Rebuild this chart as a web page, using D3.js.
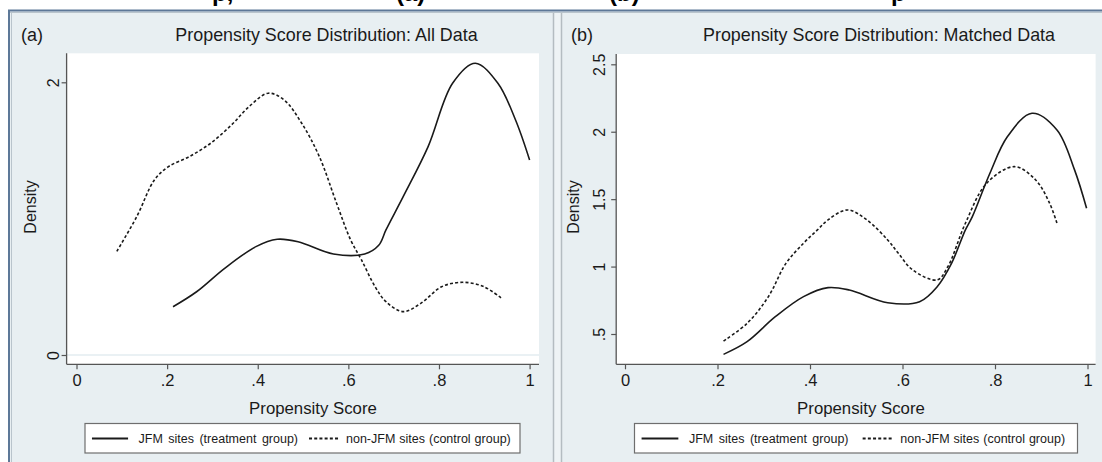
<!DOCTYPE html>
<html><head><meta charset="utf-8">
<script src="https://cdn.jsdelivr.net/npm/d3@7"></script>
<style>
html,body{margin:0;padding:0;background:#fff;}
svg{display:block;font-family:"Liberation Sans",Arial,sans-serif;}
</style></head>
<body>
<svg id="c" width="1102" height="462"></svg>
<script>
// ---------- DATA ----------
const xTicks = [0, 0.2, 0.4, 0.6, 0.8, 1];
const xTickLabels = ["0", ".2", ".4", ".6", ".8", "1"];
const yTicksA = [0, 2];
const yTickLabelsA = ["0", "2"];
const yTicksB = [0.5, 1, 1.5, 2, 2.5];
const yTickLabelsB = [".5", "1", "1.5", "2", "2.5"];
const seriesNames = ["JFM sites (treatment group)", "non-JFM sites (control group)"];
const panelTitles = ["Propensity Score Distribution: All Data", "Propensity Score Distribution: Matched Data"];
const panelTags = ["(a)", "(b)"];
const xTitle = "Propensity Score";
const yTitle = "Density";
const headingFragments = ["p,", "(a)", "(b)", "p"];

// Panel (a): all data
const aJfmScore = [0.213,0.265,0.327,0.396,0.443,0.489,0.567,0.636,0.667,0.683,0.721,0.776,0.830,0.880,0.930,0.969,1.0];
const aJfmDens  = [0.354,0.464,0.636,0.795,0.849,0.831,0.741,0.741,0.805,0.917,1.161,1.528,1.993,2.14,1.993,1.724,1.431];
const aNonScore = [0.089,0.133,0.172,0.203,0.249,0.296,0.342,0.381,0.423,0.458,0.497,0.536,0.574,0.605,0.629,0.659,0.683,0.721,0.760,0.806,0.853,0.899,0.938];
const aNonDens  = [0.760,1.015,1.284,1.382,1.455,1.553,1.687,1.822,1.920,1.871,1.700,1.455,1.113,0.844,0.697,0.501,0.391,0.318,0.379,0.501,0.533,0.501,0.416];

// Panel (b): matched data
const bJfmScore = [0.213,0.264,0.325,0.386,0.439,0.485,0.568,0.637,0.675,0.706,0.736,0.751,0.789,0.827,0.880,0.934,0.972,0.998];
const bJfmDens  = [0.349,0.443,0.628,0.777,0.844,0.826,0.732,0.740,0.851,1.024,1.272,1.370,1.692,1.964,2.137,2.013,1.717,1.432];
const bNonScore = [0.213,0.264,0.310,0.348,0.386,0.416,0.439,0.481,0.523,0.568,0.591,0.622,0.675,0.698,0.736,0.782,0.842,0.888,0.918,0.934];
const bNonDens  = [0.448,0.579,0.777,1.024,1.173,1.272,1.346,1.420,1.346,1.197,1.099,0.975,0.901,0.999,1.321,1.618,1.741,1.642,1.470,1.321];

// ---------- DRAW ----------
const svg = d3.select("#c");
const BG = "#e8eff2";
const INK = "#1a1a1a";

// page frame
svg.append("rect").attr("x",0).attr("y",0).attr("width",1102).attr("height",462).attr("fill","#fff");
svg.append("rect").attr("x",9).attr("y",11).attr("width",1093).attr("height",451).attr("fill",BG);
svg.append("line").attr("x1",8).attr("x2",1102).attr("y1",10.5).attr("y2",10.5).attr("stroke","#5d7898").attr("stroke-width",2);
svg.append("line").attr("x1",8).attr("x2",1102).attr("y1",12.5).attr("y2",12.5).attr("stroke","#b9c4cc").attr("stroke-width",1);
svg.append("line").attr("x1",9).attr("x2",9).attr("y1",10).attr("y2",462).attr("stroke","#5d7898").attr("stroke-width",2);
svg.append("line").attr("x1",11.5).attr("x2",11.5).attr("y1",12).attr("y2",462).attr("stroke","#b9c4cc").attr("stroke-width",1);
// panel separators
svg.append("rect").attr("x",554).attr("y",13).attr("width",7).attr("height",449).attr("fill","#eef3f5");
svg.append("line").attr("x1",553.5).attr("x2",553.5).attr("y1",13).attr("y2",462).attr("stroke","#b4bcc1").attr("stroke-width",1.5);
svg.append("line").attr("x1",561.5).attr("x2",561.5).attr("y1",13).attr("y2",462).attr("stroke","#b4bcc1").attr("stroke-width",1.5);

// cropped heading fragments (bottom of the source page's heading line, cut off as in the reference)
const head = svg.append("g").attr("font-weight","bold").attr("font-size",24).attr("fill","#000");
const headX = [212, 396, 609, 891];
headingFragments.forEach((t,i)=>{
  head.append("text").attr("x",headX[i]).attr("y",1).text(t);
});

const panels = [
  { tag: panelTags[0], title: panelTitles[0], titleX: 326.5, tagX: 21,
    plot: {l:66.6, r:539, t:53.3, b:364.3},
    x: d3.scaleLinear().domain([0,1]).range([76.5,529.6]),
    y: d3.scaleLinear().domain([0,2]).range([355,82.3]),
    yTicks: yTicksA, yLabels: yTickLabelsA, grid0: true,
    yLabX: 52.6, yTitleX: 30, xTitleX: 313,
    legend: {l:85, r:520},
    series: [ {x:aJfmScore, y:aJfmDens, dash:null}, {x:aNonScore, y:aNonDens, dash:"3,2.2"} ] },
  { tag: panelTags[1], title: panelTitles[1], titleX: 879, tagX: 571,
    plot: {l:616.2, r:1095.6, t:54, b:364.3},
    x: d3.scaleLinear().domain([0,1]).range([625,1087.5]),
    y: d3.scaleLinear().domain([0.5,2.5]).range([334,64.3]),
    yTicks: yTicksB, yLabels: yTickLabelsB, grid0: false,
    yLabX: 599, yTitleX: 573, xTitleX: 861,
    legend: {l:634.5, r:1077.5},
    series: [ {x:bJfmScore, y:bJfmDens, dash:null}, {x:bNonScore, y:bNonDens, dash:"3,2.2"} ] }
];

panels.forEach(p => {
  const g = svg.append("g");
  // tag and title
  g.append("text").attr("x",p.tagX).attr("y",41).attr("font-size",18).attr("fill",INK).text(p.tag);
  g.append("text").attr("x",p.titleX).attr("y",41).attr("text-anchor","middle").attr("font-size",17.9).attr("fill",INK).text(p.title);
  // plot region
  g.append("rect").attr("x",p.plot.l).attr("y",p.plot.t).attr("width",p.plot.r-p.plot.l).attr("height",p.plot.b-p.plot.t).attr("fill","#fff");
  if (p.grid0) {
    g.append("line").attr("x1",p.plot.l).attr("x2",p.plot.r).attr("y1",p.y(0)).attr("y2",p.y(0)).attr("stroke","#e3ecf0").attr("stroke-width",1.5);
  }
  // axes
  const xAxis = d3.axisBottom(p.x).tickValues(xTicks).tickFormat((d,i)=>xTickLabels[i]).tickSize(5).tickSizeOuter(0).tickPadding(5);
  const xg = g.append("g").attr("transform",`translate(0,${p.plot.b})`).call(xAxis);
  xg.select(".domain").attr("d",`M${p.plot.l},0H${p.plot.r}`).attr("stroke","#555").attr("stroke-width",1.3);
  xg.selectAll(".tick line").attr("stroke","#555").attr("stroke-width",1.2);
  xg.selectAll(".tick text").attr("font-size",16.5).attr("fill",INK).attr("font-family","Liberation Sans, Arial, sans-serif");

  const yAxis = d3.axisLeft(p.y).tickValues(p.yTicks).tickFormat((d,i)=>p.yLabels[i]).tickSize(5).tickSizeOuter(0);
  const yg = g.append("g").attr("transform",`translate(${p.plot.l},0)`).call(yAxis);
  yg.select(".domain").attr("d",`M0,${p.plot.t}V${p.plot.b}`).attr("stroke","#555").attr("stroke-width",1.3);
  yg.selectAll(".tick line").attr("stroke","#555").attr("stroke-width",1.2);
  yg.selectAll(".tick text")
    .attr("x",null).attr("dy",null)
    .attr("text-anchor","middle").attr("font-size",16).attr("fill",INK)
    .attr("font-family","Liberation Sans, Arial, sans-serif")
    .attr("transform",`translate(${p.yLabX - p.plot.l + 6},0) rotate(-90)`);

  // axis titles
  g.append("text").attr("x",p.xTitleX).attr("y",414).attr("text-anchor","middle").attr("font-size",16.8).attr("fill",INK).text(xTitle);
  g.append("text").attr("transform",`translate(${p.yTitleX + 6},207) rotate(-90)`).attr("text-anchor","middle").attr("font-size",16).attr("fill",INK).text(yTitle);

  // curves
  const line = d3.line().x(d=>p.x(d[0])).y(d=>p.y(d[1])).curve(d3.curveCatmullRom.alpha(0.5));
  const clipId = "clip"+p.tag.replace(/\W/g,"");
  g.append("clipPath").attr("id",clipId).append("rect").attr("x",p.plot.l).attr("y",p.plot.t).attr("width",p.plot.r-p.plot.l).attr("height",p.plot.b-p.plot.t);
  p.series.forEach(s => {
    const pts = s.x.map((v,i)=>[v, s.y[i]]);
    g.append("path").datum(pts).attr("d",line).attr("fill","none").attr("stroke",INK)
      .attr("stroke-width",1.6).attr("stroke-dasharray",s.dash).attr("clip-path",`url(#${clipId})`);
  });

  // legend
  const L = p.legend;
  const lg = g.append("g");
  lg.append("rect").attr("x",L.l).attr("y",423.5).attr("width",L.r-L.l).attr("height",29.5).attr("fill","#fff").attr("stroke","#6e6e6e").attr("stroke-width",1.2);
  const w = L.r - L.l;
  lg.append("line").attr("x1",L.l+0.016*w).attr("x2",L.l+0.099*w).attr("y1",438.5).attr("y2",438.5).attr("stroke",INK).attr("stroke-width",1.8);
  lg.append("text").attr("x",L.l+0.123*w).attr("y",443).attr("font-size",12.5).attr("fill",INK).attr("word-spacing",2).text(seriesNames[0]);
  lg.append("line").attr("x1",L.l+0.515*w).attr("x2",L.l+0.585*w).attr("y1",438.5).attr("y2",438.5).attr("stroke",INK).attr("stroke-width",1.8).attr("stroke-dasharray","3,2.2");
  lg.append("text").attr("x",L.l+0.600*w).attr("y",443).attr("font-size",12.5).attr("fill",INK).attr("word-spacing",0.5).text(seriesNames[1]);
});
</script>
</body></html>
